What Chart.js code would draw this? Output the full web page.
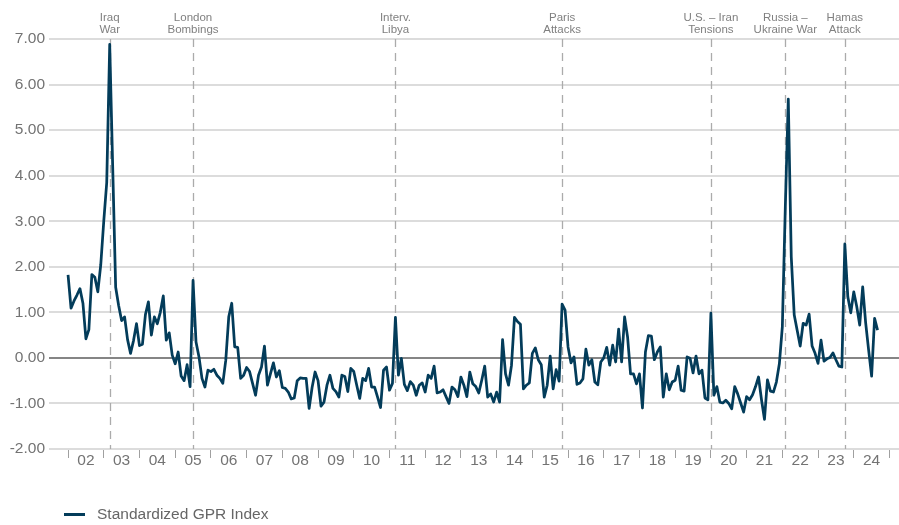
<!DOCTYPE html>
<html>
<head>
<meta charset="utf-8">
<title>Standardized GPR Index</title>
<script src="https://cdn.jsdelivr.net/npm/chart.js@4.4.0/dist/chart.umd.min.js"></script>
<style>
  html, body { margin: 0; padding: 0; background: #fff; }
  #wrap { position: relative; width: 899px; height: 525px; }
  #legend {
    position: absolute; left: 64px; top: 505px;
    font: 15.5px 'Liberation Sans', Arial, sans-serif; color: #666;
    display: flex; align-items: center; line-height: 18px;
  }
  #legend .swatch { width: 21px; height: 3px; background: #033c5a; margin-right: 12px; }
</style>
</head>
<body>
<div id="wrap">
  <canvas id="gprChart" width="899" height="525"></canvas>
  <div id="legend"><span class="swatch"></span><span>Standardized GPR Index</span></div>
</div>
<script>
'use strict';

// monthly series, Jan 2002 .. Sep 2024
const FIRST_YEAR = 2002;
const yearLabels = ['02', '03', '04', '05', '06', '07', '08', '09', '10', '11', '12', '13',
  '14', '15', '16', '17', '18', '19', '20', '21', '22', '23', '24'];

const gprValues = [
  1.82, 1.09, 1.25, 1.38, 1.52, 1.20, 0.42, 0.62, 1.83, 1.77, 1.45, 2.05,          // 2002
  3.00, 3.85, 6.88, 4.20, 1.55, 1.15, 0.82, 0.90, 0.40, 0.10, 0.38, 0.75,          // 2003
  0.27, 0.30, 0.95, 1.23, 0.50, 0.90, 0.75, 1.00, 1.36, 0.39, 0.55, 0.06,          // 2004
  -0.13, 0.13, -0.40, -0.50, -0.15, -0.63, 1.70, 0.35, 0.02, -0.45, -0.64, -0.27,  // 2005
  -0.30, -0.25, -0.38, -0.45, -0.56, -0.05, 0.90, 1.20, 0.24, 0.23, -0.45, -0.38,  // 2006
  -0.21, -0.30, -0.56, -0.82, -0.38, -0.20, 0.26, -0.60, -0.35, -0.11, -0.42, -0.28, // 2007
  -0.65, -0.67, -0.75, -0.90, -0.88, -0.50, -0.44, -0.45, -0.45, -1.11, -0.65, -0.31, // 2008
  -0.50, -1.06, -0.97, -0.60, -0.38, -0.67, -0.74, -0.86, -0.38, -0.41, -0.74, -0.23, // 2009
  -0.30, -0.60, -0.89, -0.45, -0.50, -0.23, -0.64, -0.64, -0.86, -1.09, -0.27, -0.20, // 2010
  -0.71, -0.56, 0.89, -0.38, -0.01, -0.58, -0.72, -0.52, -0.60, -0.82, -0.60, -0.55,  // 2011
  -0.75, -0.38, -0.45, -0.18, -0.77, -0.75, -0.70, -0.85, -1.00, -0.64, -0.70, -0.85, // 2012
  -0.42, -0.60, -0.85, -0.31, -0.57, -0.63, -0.77, -0.49, -0.18, -0.86, -0.79, -0.97, // 2013
  -0.75, -0.97, 0.40, -0.35, -0.60, -0.16, 0.89, 0.80, 0.74, -0.68, -0.60, -0.55,     // 2014
  0.10, 0.22, -0.04, -0.15, -0.86, -0.60, 0.04, -0.68, -0.26, -0.51, 1.18, 1.05,      // 2015
  0.24, -0.11, 0.02, -0.58, -0.55, -0.46, 0.19, -0.16, -0.04, -0.53, -0.59, -0.09,    // 2016
  0.00, 0.23, -0.16, 0.28, -0.09, 0.63, -0.09, 0.90, 0.46, -0.35, -0.35, -0.57,       // 2017
  -0.35, -1.10, 0.13, 0.49, 0.48, -0.04, 0.13, 0.24, -0.86, -0.35, -0.70, -0.53,      // 2018
  -0.49, -0.18, -0.71, -0.73, 0.02, -0.01, -0.33, 0.04, -0.35, -0.27, -0.88, -0.92,   // 2019
  0.98, -0.82, -0.63, -0.97, -0.99, -0.93, -1.00, -1.12, -0.63, -0.79, -0.99, -1.19,  // 2020
  -0.85, -0.92, -0.81, -0.63, -0.42, -0.92, -1.35, -0.48, -0.73, -0.75, -0.53, -0.13, // 2021
  0.68, 3.30, 5.68, 2.22, 0.94, 0.60, 0.26, 0.76, 0.72, 0.96, 0.26, 0.10,             // 2022
  -0.12, 0.39, -0.07, -0.02, 0.01, 0.11, -0.04, -0.18, -0.20, 2.50, 1.34, 0.99,       // 2023
  1.45, 1.13, 0.72, 1.56, 0.77, 0.17, -0.40, 0.87, 0.61                               // 2024
];

// event markers
const eventYears = [2003, 2005, 2011, 2015, 2020, 2022, 2023];
const eventMonths = [3, 7, 3, 11, 1, 2, 10];
const eventLabels = [
  ['Iraq', 'War'],
  ['London', 'Bombings'],
  ['Interv.', 'Libya'],
  ['Paris', 'Attacks'],
  ['U.S. \u2013 Iran', 'Tensions'],
  ['Russia \u2013', 'Ukraine War'],
  ['Hamas', 'Attack']
];

const FONT = "'Liberation Sans', Arial, sans-serif";
const LINE_COLOR = '#033c5a';

const eventMarkers = {
  id: 'eventMarkers',
  beforeDatasetsDraw(chart) {
    const { ctx, chartArea, scales } = chart;
    ctx.save();
    ctx.strokeStyle = '#ababab';
    ctx.lineWidth = 1.3;
    ctx.setLineDash([8, 6]);
    eventYears.forEach((yr, k) => {
      const px = Math.round(scales.x.getPixelForValue(yr + (eventMonths[k] - 1) / 12)) + 0.5;
      ctx.beginPath();
      ctx.moveTo(px, chartArea.top);
      ctx.lineTo(px, chartArea.bottom);
      ctx.stroke();
    });
    ctx.restore();
  },
  afterDraw(chart) {
    const { ctx, scales } = chart;
    ctx.save();
    ctx.font = '11.5px ' + FONT;
    ctx.fillStyle = '#808080';
    ctx.textAlign = 'center';
    ctx.textBaseline = 'middle';
    eventYears.forEach((yr, k) => {
      const px = scales.x.getPixelForValue(yr + (eventMonths[k] - 1) / 12);
      ctx.fillText(eventLabels[k][0], px, 18);
      ctx.fillText(eventLabels[k][1], px, 30);
    });
    ctx.restore();
  }
};

new Chart(document.getElementById('gprChart'), {
  type: 'line',
  data: {
    datasets: [{
      label: 'Standardized GPR Index',
      data: gprValues.map((v, i) => ({ x: FIRST_YEAR + i / 12, y: v })),
      borderColor: LINE_COLOR,
      borderWidth: 2.75,
      borderJoinStyle: 'round',
      pointRadius: 0,
      tension: 0,
      fill: false
    }]
  },
  options: {
    responsive: false,
    animation: false,
    layout: { padding: { top: 39, bottom: 54, left: 0, right: 0 } },
    plugins: { legend: { display: false }, tooltip: { enabled: false } },
    scales: {
      x: {
        type: 'linear',
        min: FIRST_YEAR - 6.4 / 12,
        max: FIRST_YEAR + 279.2 / 12,
        afterBuildTicks(scale) {
          const t = [];
          yearLabels.forEach((lab, k) => {
            t.push({ value: FIRST_YEAR + k });
            t.push({ value: FIRST_YEAR + k + 0.5 });
          });
          t.push({ value: FIRST_YEAR + yearLabels.length });
          scale.ticks = t;
        },
        afterFit(scale) { scale.height = 22; },
        border: { display: false },
        grid: {
          drawOnChartArea: false,
          drawTicks: true,
          tickLength: 9,
          lineWidth: 1,
          color: ctx => (ctx.tick && Number.isInteger(ctx.tick.value)) ? '#a0a0a0' : 'rgba(0,0,0,0)'
        },
        ticks: {
          autoSkip: false,
          maxRotation: 0,
          padding: -7,
          color: '#737373',
          font: { family: FONT, size: 15.5 },
          callback: v => (v % 1 === 0.5 ? yearLabels[Math.floor(v - FIRST_YEAR)] : '')
        }
      },
      y: {
        min: -2,
        max: 7,
        afterFit(scale) { scale.width = 49; },
        border: { display: false },
        grid: {
          drawTicks: false,
          lineWidth: 2,
          color: ctx => (ctx.tick && ctx.tick.value === 0) ? '#858585' : '#dcdcdc'
        },
        ticks: {
          stepSize: 1,
          padding: 4,
          color: '#737373',
          font: { family: FONT, size: 15.5 },
          callback: v => v.toFixed(2)
        }
      }
    }
  },
  plugins: [eventMarkers]
});
</script>
</body>
</html>
